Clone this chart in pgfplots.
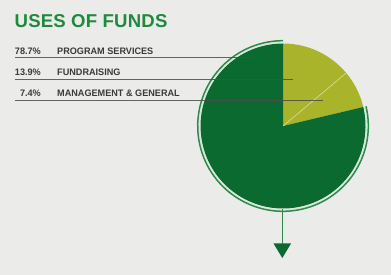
\documentclass[border=0pt]{standalone}
\usepackage{pgfplots}
\usepackage{pgfplotstable}
\pgfplotsset{compat=1.18}
\usepackage{fontspec}
\setmainfont{Liberation Sans}
\newfontfamily\titlefont[LetterSpace=1]{Liberation Sans}
\newfontfamily\labelfont[FakeStretch=0.97]{Liberation Sans}
\definecolor{bg}{HTML}{EBEBE9}
\definecolor{darkgreen}{HTML}{0B6A30}
\definecolor{olive}{HTML}{A9B42A}
\definecolor{ringgreen}{HTML}{2E8A48}
\definecolor{titlegreen}{HTML}{1F8A3E}
\definecolor{txt}{HTML}{3A3A3A}

% clockwise order from 12 o'clock
\pgfplotstableread[col sep=comma]{
label,pct
FUNDRAISING,13.9
MANAGEMENT \& GENERAL,7.4
PROGRAM SERVICES,78.7
}\uses

\begin{document}
\begin{tikzpicture}
\pgfplotstablegetelem{0}{pct}\of\uses \let\pA\pgfplotsretval
\pgfplotstablegetelem{1}{pct}\of\uses \let\pB\pgfplotsretval
\pgfplotstablegetelem{2}{pct}\of\uses \let\pC\pgfplotsretval
\pgfplotstablegetelem{0}{label}\of\uses \let\lA\pgfplotsretval
\pgfplotstablegetelem{1}{label}\of\uses \let\lB\pgfplotsretval
\pgfplotstablegetelem{2}{label}\of\uses \let\lC\pgfplotsretval
\pgfmathsetmacro\aA{90}
\pgfmathsetmacro\aB{\aA-3.6*\pA}
\pgfmathsetmacro\aC{\aB-3.6*\pB}
\pgfmathsetmacro\aD{\aC-3.6*\pC}
\fill[bg] (0,0) rectangle (391pt,275pt);
\begin{axis}[
  anchor=south west, at={(0pt,0pt)},
  x=1pt, y=1pt,
  xmin=0, xmax=391, ymin=0, ymax=275,
  hide axis, clip=false,
]
% pie slices
\fill[olive] (axis cs:283,149) -- ++(\aA:82.5pt) arc[start angle=\aA, end angle=\aB, radius=82.5pt] -- cycle;
\fill[olive] (axis cs:283,149) -- ++(\aB:82.5pt) arc[start angle=\aB, end angle=\aC, radius=82.5pt] -- cycle;
\fill[darkgreen] (axis cs:283,149) -- ++(\aC:82.5pt) arc[start angle=\aC, end angle=\aD, radius=82.5pt] -- cycle;
\draw[white!55!olive, line width=0.6pt] (axis cs:283,149) -- ++(\aB:82.5pt);
% ring around the main slice
\draw[white!80!ringgreen, line width=1pt] (axis cs:283,149) ++(\aC:83.7pt) arc[start angle=\aC, end angle=\aD, radius=83.7pt];
\draw[ringgreen, line width=1.5pt] (axis cs:283,149) ++(\aC:85.3pt) arc[start angle=\aC, end angle=\aD, radius=85.3pt];
% arrow
\draw[ringgreen, line width=1.6pt] (axis cs:282.5,66) -- (axis cs:282.5,31);
\fill[darkgreen] (axis cs:273.5,31.5) -- (axis cs:291,31.5) -- (axis cs:282.3,17) -- cycle;
% leader lines
\draw[black!70, line width=1.2pt, opacity=0.85] (axis cs:14.5,217.3) -- (axis cs:255,217.3);
\draw[black!70, line width=1.2pt, opacity=0.85] (axis cs:14.5,195.7) -- (axis cs:293,195.7);
\draw[black!70, line width=1.2pt, opacity=0.85] (axis cs:14.5,174.3) -- (axis cs:323,174.3);
% title
\node[anchor=base west, inner sep=0pt, text=titlegreen, font=\titlefont\bfseries\fontsize{18.6}{20}\selectfont] at (axis cs:14.5,247.7) {USES OF FUNDS};
% rows
\node[anchor=base east, inner sep=0pt, text=txt, font=\labelfont\bfseries\fontsize{9.4}{10}\selectfont] at (axis cs:41,220) {\pC\%};
\node[anchor=base west, inner sep=0pt, text=txt, font=\labelfont\bfseries\fontsize{9.4}{10}\selectfont] at (axis cs:57,220) {\lC};
\node[anchor=base east, inner sep=0pt, text=txt, font=\labelfont\bfseries\fontsize{9.4}{10}\selectfont] at (axis cs:41,199) {\pA\%};
\node[anchor=base west, inner sep=0pt, text=txt, font=\labelfont\bfseries\fontsize{9.4}{10}\selectfont] at (axis cs:57,199) {\lA};
\node[anchor=base east, inner sep=0pt, text=txt, font=\labelfont\bfseries\fontsize{9.4}{10}\selectfont] at (axis cs:41,178.5) {\pB\%};
\node[anchor=base west, inner sep=0pt, text=txt, font=\labelfont\bfseries\fontsize{9.4}{10}\selectfont] at (axis cs:57,178.5) {\lB};
\end{axis}
\end{tikzpicture}
\end{document}
